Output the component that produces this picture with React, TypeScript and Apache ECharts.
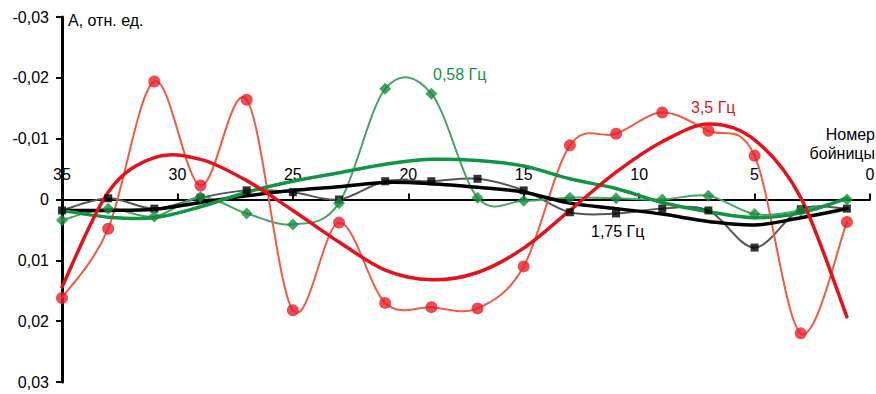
import React, { useEffect, useRef } from "react";
import * as echarts from "echarts";

const boinitsy = [35, 33, 31, 29, 27, 25, 23, 21, 19, 17, 15, 13, 11, 9, 7, 5, 3, 1];

const red35 = [0.0162, 0.0048, -0.0194, -0.0023, -0.0164, 0.0182, 0.0038, 0.017, 0.0177, 0.0179, 0.011, -0.0089, -0.0108, -0.0143, -0.0113, -0.0072, 0.022, 0.0037];
const green058 = [0.0034, 0.0015, 0.0028, -0.0004, 0.0023, 0.0041, 0.0006, -0.0182, -0.0174, -0.0003, 0.0002, -0.0003, -0.0002, 0.0, -0.0006, 0.0024, 0.0018, 0.0];
const black175 = [0.0018, -0.0002, 0.0015, -0.0003, -0.0015, -0.0012, 0.0, -0.003, -0.003, -0.0034, -0.0015, 0.0021, 0.0023, 0.0015, 0.0018, 0.0079, 0.0016, 0.0015];

const redTrend = [0.0144, -0.0012, -0.0069, -0.0066, -0.0031, 0.0018, 0.007, 0.0116, 0.0132, 0.012, 0.008, 0.0018, -0.0045, -0.0095, -0.0124, -0.0098, -0.0003, 0.0193];
const greenTrend = [0.0018, 0.0029, 0.003, 0.0012, -0.0012, -0.003, -0.0044, -0.0058, -0.0066, -0.0064, -0.0055, -0.0034, -0.0018, 0.0005, 0.002, 0.003, 0.0022, -0.0002];
const blackTrend = [0.0018, 0.0018, 0.0016, 0.0005, -0.0006, -0.0015, -0.0021, -0.0028, -0.0026, -0.002, -0.0012, 0.0006, 0.0015, 0.0024, 0.0036, 0.0042, 0.003, 0.0015];

const yTicks = [-0.03, -0.02, -0.01, 0, 0.01, 0.02, 0.03];

const pts = (ys: number[]) => boinitsy.map((x, i) => [x, ys[i]]);

const FONT = "'Liberation Sans', Arial, sans-serif";
const GRID_TOP = 17;
const GRID_BOTTOM = 12;
const H = 394;

// Catmull-Rom style smooth path through pixel points (like a spreadsheet "smoothed line")
function smoothPath(P: number[][]): string {
  if (P.length < 2) return "";
  let d = `M${P[0][0]},${P[0][1]}`;
  for (let i = 0; i < P.length - 1; i++) {
    const p0 = P[Math.max(0, i - 1)];
    const p1 = P[i];
    const p2 = P[i + 1];
    const p3 = P[Math.min(P.length - 1, i + 2)];
    const c1x = p1[0] + (p2[0] - p0[0]) / 6;
    const c1y = p1[1] + (p2[1] - p0[1]) / 6;
    const c2x = p2[0] - (p3[0] - p1[0]) / 6;
    const c2y = p2[1] - (p3[1] - p1[1]) / 6;
    d += ` C${c1x},${c1y} ${c2x},${c2y} ${p2[0]},${p2[1]}`;
  }
  return d;
}

export default function App() {
  const ref = useRef<HTMLDivElement>(null);
  useEffect(() => {
    if (!ref.current) return;
    const chart = echarts.init(ref.current, undefined, { renderer: "svg" });
    const curve = (name: string, ys: number[], color: string, width: number, z: number) => ({
      name,
      type: "custom",
      data: pts(ys),
      z,
      silent: true,
      renderItem: (params: any, api: any) => {
        if (params.dataIndex !== 0) return null;
        const P = boinitsy.map((x, i) => api.coord([x, ys[i]]));
        return {
          type: "path",
          shape: { pathData: smoothPath(P) },
          style: { stroke: color, lineWidth: width, fill: "none", lineJoin: "round", lineCap: "round" },
        };
      },
    });
    const marks = (name: string, ys: number[], color: string, symbol: string, size: number) => ({
      name,
      type: "scatter",
      data: pts(ys),
      symbol,
      symbolSize: size,
      itemStyle: { color },
      z: 6,
    });
    // x-axis sits at the y = 0 level (middle of the symmetric y range)
    const gridH = H - GRID_TOP - GRID_BOTTOM;
    const zeroOffset = -gridH / 2;
    chart.setOption({
      animation: false,
      backgroundColor: "#fff",
      textStyle: { fontFamily: FONT },
      grid: { left: 62, right: 6, top: GRID_TOP, bottom: GRID_BOTTOM, containLabel: false, outerBoundsMode: "none" },
      xAxis: {
        type: "value",
        inverse: true,
        min: 0,
        max: 35,
        interval: 5,
        position: "top",
        offset: zeroOffset,
        axisLine: { onZero: false, lineStyle: { color: "#000", width: 2 } },
        axisTick: { show: true, length: 6, lineStyle: { color: "#000", width: 2 } },
        axisLabel: { color: "#000", fontSize: 16, margin: 17, fontFamily: FONT },
        splitLine: { show: false },
      },
      yAxis: {
        type: "value",
        inverse: true,
        min: -0.03,
        max: 0.03,
        interval: 0.01,
        axisLine: { show: true, onZero: false, lineStyle: { color: "#000", width: 3 } },
        axisTick: { show: true, length: 6, lineStyle: { color: "#000", width: 2 } },
        axisLabel: {
          color: "#000",
          fontSize: 16,
          margin: 13,
          fontFamily: FONT,
          formatter: (v: number) => {
            const t = yTicks.reduce((a, b) => (Math.abs(b - v) < Math.abs(a - v) ? b : a));
            return t === 0 ? "0" : t.toFixed(2).replace(".", ",");
          },
        },
        splitLine: { show: false },
      },
      graphic: [
        { type: "text", left: 68, top: 12, style: { text: "А, отн. ед.", fontSize: 16, fill: "#000", fontFamily: FONT } },
        { type: "text", right: 1, top: 126, style: { text: "Номер", fontSize: 16, fill: "#000", fontFamily: FONT, align: "right" } },
        { type: "text", right: 1, top: 145, style: { text: "бойницы", fontSize: 16, fill: "#000", fontFamily: FONT, align: "right" } },
        { type: "text", left: 433, top: 66, style: { text: "0,58 Гц", fontSize: 16, fill: "#169143", fontFamily: FONT } },
        { type: "text", left: 691, top: 99, style: { text: "3,5 Гц", fontSize: 16, fill: "#e3131b", fontFamily: FONT } },
        { type: "text", left: 591, top: 223, style: { text: "1,75 Гц", fontSize: 16, fill: "#000", fontFamily: FONT } },
      ],
      series: [
        curve("1,75 Гц сырые", black175, "#555555", 2, 2),
        curve("0,58 Гц сырые", green058, "#45a565", 2, 2),
        curve("3,5 Гц сырые", red35, "#f15a45", 2, 3),
        curve("1,75 Гц тренд", blackTrend, "#000000", 3.5, 4),
        curve("0,58 Гц тренд", greenTrend, "#119443", 3.5, 4),
        curve("3,5 Гц тренд", redTrend, "#e3131b", 3.5, 4),
        marks("1,75 Гц", black175, "#000", "rect", 8),
        marks("0,58 Гц", green058, "#178c3d", "diamond", 12),
        marks("3,5 Гц", red35, "#e81e2b", "circle", 12),
      ],
    });
    return () => chart.dispose();
  }, []);
  return <div ref={ref} style={{ position: "fixed", left: 0, top: 0, width: 876, height: 394 }} />;
}
